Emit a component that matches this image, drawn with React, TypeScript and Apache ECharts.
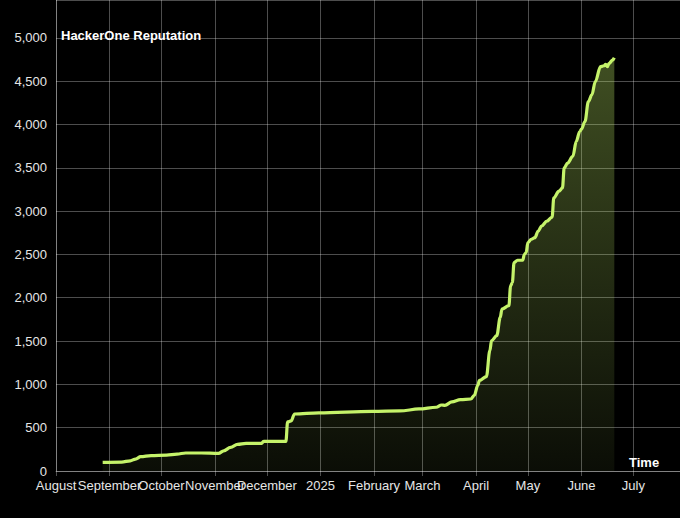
import React, { useEffect, useRef } from "react";
import * as echarts from "echarts";

const dates: string[] = [
  "2024-08-28", "2024-09-08", "2024-09-13", "2024-09-16", "2024-09-19", "2024-09-25",
  "2024-10-04", "2024-10-10", "2024-10-15", "2024-10-24", "2024-11-03", "2024-11-06",
  "2024-11-10", "2024-11-14", "2024-11-19", "2024-11-28", "2024-11-29", "2024-12-12",
  "2024-12-13", "2024-12-15", "2024-12-17", "2024-12-31", "2025-01-31", "2025-02-16",
  "2025-02-27", "2025-03-09", "2025-03-12", "2025-03-14", "2025-03-18", "2025-03-23",
  "2025-03-29", "2025-03-31", "2025-04-02", "2025-04-03", "2025-04-07", "2025-04-09",
  "2025-04-10", "2025-04-13", "2025-04-15", "2025-04-16", "2025-04-20", "2025-04-21",
  "2025-04-22", "2025-04-23", "2025-04-25", "2025-04-28", "2025-04-29", "2025-04-30",
  "2025-05-01", "2025-05-03", "2025-05-05", "2025-05-07", "2025-05-09", "2025-05-12",
  "2025-05-15", "2025-05-16", "2025-05-19", "2025-05-21", "2025-05-22", "2025-05-24",
  "2025-05-27", "2025-05-29", "2025-05-31", "2025-06-01", "2025-06-03", "2025-06-05",
  "2025-06-07", "2025-06-09", "2025-06-12", "2025-06-14", "2025-06-15", "2025-06-16",
  "2025-06-17", "2025-06-19", "2025-06-20",
];

const reputation: number[] = [
  100, 103, 118, 138, 165, 178,
  184, 195, 208, 208, 203, 233,
  272, 307, 318, 320, 341, 343,
  567, 578, 658, 672, 688, 693,
  716, 736, 762, 758, 797, 824,
  831, 873, 988, 1046, 1090, 1391,
  1506, 1563, 1773, 1870, 1908, 2138,
  2176, 2406, 2433, 2433, 2502, 2521,
  2636, 2675, 2693, 2770, 2830, 2885,
  2930, 3153, 3230, 3268, 3498, 3555,
  3632, 3805, 3919, 3946, 4034, 4264,
  4341, 4494, 4667, 4678, 4693, 4667,
  4705, 4743, 4770,
];

const monthNames: string[] = [
  "January", "February", "March", "April", "May", "June",
  "July", "August", "September", "October", "November", "December",
];

const chartTitle = "HackerOne Reputation";
const xAxisTitle = "Time";

const FONT = "'Liberation Sans', Arial, Helvetica, sans-serif";

export default function App() {
  const ref = useRef<HTMLDivElement>(null);

  useEffect(() => {
    document.body.style.margin = "0";
    document.body.style.background = "#000";
    if (!ref.current) return;
    const chart = echarts.init(ref.current, undefined, { renderer: "svg" });
    const lineColor = "#c5f36a";
    const gridColor = "rgba(255,255,255,0.3)";
    chart.setOption({
      animation: false,
      backgroundColor: "#000",
      textStyle: { fontFamily: FONT },
      title: [
        {
          text: chartTitle,
          left: 61,
          top: 29,
          padding: 0,
          textStyle: { color: "#fff", fontSize: 13, fontWeight: "bold", fontFamily: FONT },
        },
        {
          text: xAxisTitle,
          left: 629,
          top: 456,
          padding: 0,
          textStyle: { color: "#fff", fontSize: 13, fontWeight: "bold", fontFamily: FONT },
        },
      ],
      grid: { left: 56, right: 0, top: -2, bottom: 47, containLabel: false },
      xAxis: {
        type: "time",
        min: new Date(2024, 7, 1).getTime(),
        max: new Date(2025, 6, 28).getTime(),
        splitNumber: 12,
        axisLine: { show: true, lineStyle: { color: gridColor } },
        axisTick: { show: true, length: 5, lineStyle: { color: gridColor } },
        splitLine: { show: true, lineStyle: { color: gridColor, width: 1 } },
        axisLabel: {
          color: "#e6e6e6",
          fontSize: 13,
          fontFamily: FONT,
          margin: 8,
          showMaxLabel: false,
          hideOverlap: false,
          formatter: (value: number) => {
            const d = new Date(value);
            if (d.getDate() !== 1) return "";
            return d.getMonth() === 0 ? String(d.getFullYear()) : monthNames[d.getMonth()];
          },
        },
      },
      yAxis: {
        type: "value",
        min: 0,
        max: 5437,
        interval: 500,
        axisLine: { show: false },
        axisTick: { show: false },
        splitLine: { show: true, lineStyle: { color: gridColor, width: 1 } },
        axisLabel: {
          color: "#e6e6e6",
          fontSize: 13,
          fontFamily: FONT,
          margin: 9,
          showMaxLabel: false,
          formatter: (v: number) => (v % 500 === 0 ? v.toLocaleString("en-US") : ""),
        },
      },
      series: [
        {
          type: "line",
          data: dates.map((d, i) => [d, reputation[i]]),
          showSymbol: false,
          smooth: 0.35,
          smoothMonotone: "x",
          lineStyle: { color: lineColor, width: 3.2 },
          itemStyle: { color: lineColor },
          areaStyle: {
            color: new echarts.graphic.LinearGradient(0, 0, 0, 1, [
              { offset: 0, color: "rgba(197,243,106,0.46)" },
              { offset: 1, color: "rgba(197,243,106,0.08)" },
            ]),
          },
        },
      ],
    });
    return () => chart.dispose();
  }, []);

  return <div ref={ref} style={{ width: 680, height: 518 }} />;
}
